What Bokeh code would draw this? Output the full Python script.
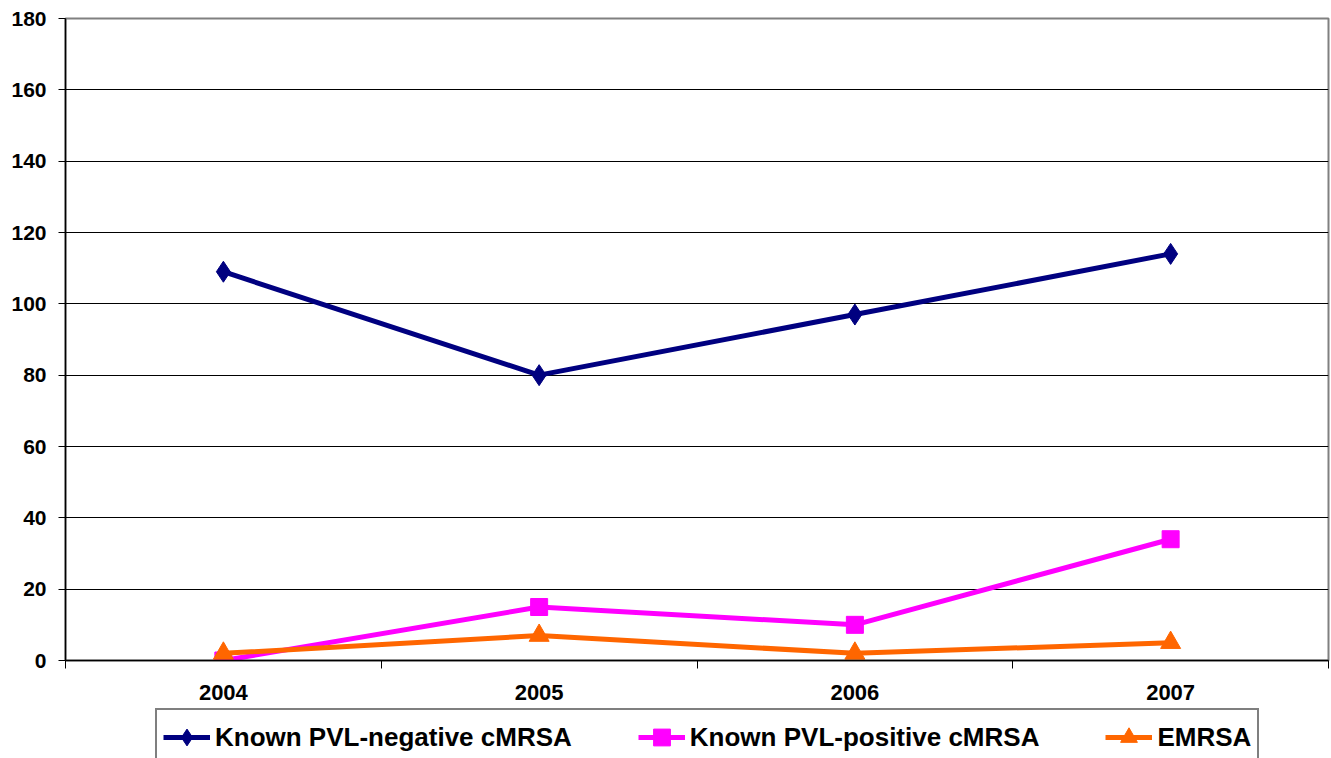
from bokeh.plotting import figure
from bokeh.models import Range1d, FixedTicker, Legend, LegendItem
from bokeh.layouts import column
from bokeh.embed import file_html
from bokeh.resources import INLINE

years = ["2004", "2005", "2006", "2007"]
pvl_negative = [109, 80, 97, 114]
pvl_positive = [0, 15, 10, 34]
emrsa = [2, 7, 2, 5]
y_ticks = [0, 20, 40, 60, 80, 100, 120, 140, 160, 180]
series_names = ["Known PVL-negative cMRSA", "Known PVL-positive cMRSA", "EMRSA"]

xs = [i + 0.5 for i in range(len(years))]

FONT = "Liberation Sans"

p = figure(width=1331, height=708, output_backend="svg", toolbar_location=None,
           x_range=Range1d(0, len(years)), y_range=Range1d(0, 180),
           min_border_left=65, min_border_right=3, min_border_top=18, min_border_bottom=48)
p.background_fill_color = "white"
p.border_fill_color = "white"
p.outline_line_color = "#808080"
p.outline_line_width = 2

# y axis
p.yaxis.ticker = FixedTicker(ticks=y_ticks)
p.yaxis.major_label_text_font = FONT
p.yaxis.major_label_text_font_style = "bold"
p.yaxis.major_label_text_font_size = "21px"
p.yaxis.major_label_text_color = "black"
p.yaxis.axis_line_color = "black"
p.yaxis.axis_line_width = 1.5
p.yaxis.major_tick_line_color = "black"
p.yaxis.major_tick_in = 0
p.yaxis.major_tick_out = 7
p.yaxis.minor_tick_line_color = None
p.yaxis.major_label_standoff = 12

# x axis: labels at category centres, ticks at category boundaries
p.xaxis.ticker = FixedTicker(ticks=xs, minor_ticks=list(range(len(years) + 1)))
p.xaxis.major_label_overrides = {x: y for x, y in zip(xs, years)}
p.xaxis.major_label_text_font = FONT
p.xaxis.major_label_text_font_style = "bold"
p.xaxis.major_label_text_font_size = "22px"
p.xaxis.major_label_text_color = "black"
p.xaxis.axis_line_color = "black"
p.xaxis.axis_line_width = 1.5
p.xaxis.major_tick_line_color = None
p.xaxis.major_tick_out = 0
p.xaxis.major_tick_in = 0
p.xaxis.minor_tick_line_color = "black"
p.xaxis.minor_tick_in = 0
p.xaxis.minor_tick_out = 8
p.xaxis.major_label_standoff = 16

p.xgrid.grid_line_color = None
p.ygrid.grid_line_color = "black"
p.ygrid.grid_line_width = 1
p.ygrid.ticker = FixedTicker(ticks=y_ticks)

all_series = [pvl_negative, pvl_positive, emrsa]
styles = [("#000080", "diamond", 21), ("#FF00FF", "square", 17), ("#FF6600", "triangle", 20)]
for vals, (col, mk, sz) in zip(all_series, styles):
    p.line(xs, vals, line_color=col, line_width=5)
    p.scatter(xs, vals, marker=mk, size=sz, fill_color=col, line_color=col)

# legend strip below the chart (its series are kept out of view; only the legend shows)
q = figure(width=1331, height=50, output_backend="svg", toolbar_location=None,
           x_range=Range1d(-20, -10), y_range=Range1d(-20, -10),
           x_axis_location=None, y_axis_location=None,
           min_border_left=0, min_border_right=0, min_border_top=0, min_border_bottom=0)
q.outline_line_color = None
q.xgrid.grid_line_color = None
q.ygrid.grid_line_color = None
q.background_fill_color = "white"
q.border_fill_color = "white"

items = []
for name, vals, (col, mk, sz) in zip(series_names, all_series, styles):
    l = q.line(xs, vals, line_color=col, line_width=5)
    s = q.scatter(xs, vals, marker=mk, size=sz, fill_color=col, line_color=col)
    items.append(LegendItem(label=name, renderers=[l, s]))

legend = Legend(items=items, orientation="horizontal", location=(90, -8))
legend.label_text_font = FONT
legend.label_text_font_style = "bold"
legend.label_text_font_size = "26px"
legend.label_text_color = "black"
legend.glyph_width = 47
legend.glyph_height = 42
legend.label_height = 42
legend.label_standoff = 5
legend.spacing = 66
legend.padding = 6
legend.margin = 0
legend.border_line_color = "black"
legend.border_line_width = 2
legend.background_fill_color = "white"
legend.background_fill_alpha = 1
q.add_layout(legend, "center")

open("out.html", "w").write(file_html(column(p, q, spacing=0), INLINE))
